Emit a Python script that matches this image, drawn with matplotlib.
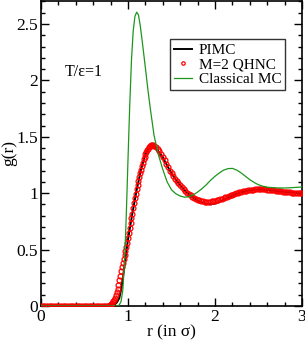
import matplotlib
matplotlib.use("Agg")
import matplotlib.pyplot as plt
from matplotlib.ticker import MultipleLocator

plt.rcParams['font.family'] = ['Liberation Serif', 'DejaVu Serif']

# M=2 QHNC (red open circles)
r_qhnc = [0.0, 0.02, 0.04, 0.06, 0.08, 0.10, 0.12, 0.14, 0.16, 0.18, 0.20, 0.22, 0.24,
          0.26, 0.28, 0.30, 0.32, 0.34, 0.36, 0.38, 0.40, 0.42, 0.44, 0.46, 0.48, 0.50,
          0.52, 0.54, 0.56, 0.58, 0.60, 0.62, 0.64, 0.66, 0.68, 0.70, 0.72, 0.74, 0.76,
          0.77, 0.78, 0.79, 0.80, 0.81, 0.82, 0.83, 0.84, 0.85, 0.86, 0.87, 0.88, 0.89,
          0.90, 0.91, 0.92, 0.93, 0.94, 0.95, 0.96, 0.97, 0.98, 0.99, 1.00, 1.01, 1.02,
          1.03, 1.04, 1.05, 1.06, 1.07, 1.08, 1.09, 1.10, 1.11, 1.12, 1.13, 1.14, 1.15,
          1.16, 1.17, 1.18, 1.19, 1.20, 1.21, 1.22, 1.23, 1.24, 1.25, 1.26, 1.27, 1.28,
          1.29, 1.30, 1.32, 1.34, 1.36, 1.38, 1.40, 1.42, 1.44, 1.46, 1.48, 1.50, 1.52,
          1.54, 1.56, 1.58, 1.60, 1.62, 1.64, 1.66, 1.68, 1.70, 1.72, 1.74, 1.76, 1.78,
          1.80, 1.82, 1.84, 1.86, 1.88, 1.90, 1.92, 1.94, 1.96, 1.98, 2.00, 2.02, 2.04,
          2.06, 2.08, 2.10, 2.12, 2.14, 2.16, 2.18, 2.20, 2.22, 2.24, 2.26, 2.28, 2.30,
          2.32, 2.34, 2.36, 2.38, 2.40, 2.42, 2.44, 2.46, 2.48, 2.50, 2.52, 2.54, 2.56,
          2.58, 2.60, 2.62, 2.64, 2.66, 2.68, 2.70, 2.72, 2.74, 2.76, 2.78, 2.80, 2.82,
          2.84, 2.86, 2.88, 2.90, 2.92, 2.94, 2.96, 2.98, 3.00]
g_qhnc = [0.0, 0.0, 0.0, 0.0, 0.0, 0.0, 0.0, 0.0, 0.0, 0.0, 0.0, 0.0, 0.0,
          0.0, 0.0, 0.0, 0.0, 0.0, 0.0, 0.0, 0.0, 0.0, 0.0, 0.0, 0.0, 0.0,
          0.0, 0.0, 0.0, 0.0, 0.0, 0.0, 0.0, 0.0, 0.0, 0.0, 0.0, 0.0, 0.0,
          0.0, 0.003, 0.007, 0.012, 0.02, 0.03, 0.042, 0.056, 0.072, 0.095, 0.122, 0.155, 0.19,
          0.23, 0.27, 0.31, 0.35, 0.385, 0.42, 0.455, 0.49, 0.525, 0.562, 0.60, 0.645, 0.69,
          0.735, 0.78, 0.82, 0.865, 0.91, 0.955, 0.995, 1.035, 1.075, 1.11, 1.145, 1.18, 1.21,
          1.24, 1.27, 1.30, 1.325, 1.345, 1.365, 1.38, 1.395, 1.407, 1.415, 1.421, 1.425, 1.427,
          1.425, 1.422, 1.41, 1.39, 1.37, 1.345, 1.318, 1.29, 1.26, 1.23, 1.20, 1.175, 1.15,
          1.13, 1.11, 1.09, 1.07, 1.052, 1.035, 1.02, 1.005, 0.992, 0.98, 0.968, 0.958, 0.95,
          0.943, 0.937, 0.932, 0.929, 0.926, 0.925, 0.925, 0.926, 0.928, 0.931, 0.935, 0.939, 0.943,
          0.947, 0.952, 0.957, 0.962, 0.968, 0.974, 0.98, 0.986, 0.992, 0.998, 1.003, 1.008, 1.012,
          1.016, 1.02, 1.023, 1.026, 1.028, 1.030, 1.032, 1.033, 1.034, 1.035, 1.035, 1.035, 1.034,
          1.033, 1.032, 1.03, 1.028, 1.026, 1.024, 1.022, 1.02, 1.018, 1.016, 1.014, 1.012, 1.01,
          1.009, 1.008, 1.006, 1.005, 1.004, 1.003, 1.002, 1.001, 1.0]

# PIMC (black line)
r_pimc = [0.0, 0.5, 0.8, 0.825, 0.85, 0.875, 0.9, 0.925, 0.95, 0.975, 1.0, 1.05, 1.1,
          1.15, 1.2, 1.25, 1.3, 1.35, 1.4, 1.45, 1.5, 1.55, 1.6, 1.65, 1.7, 1.75, 1.8,
          1.85, 1.9, 1.95, 2.0, 2.05, 2.1, 2.2, 2.3, 2.4, 2.5, 2.6, 2.7, 2.8, 2.9, 3.0]
g_pimc = [0.0, 0.0, 0.0, 0.005, 0.015, 0.035, 0.07, 0.16, 0.30, 0.45, 0.59, 0.82, 1.03,
          1.21, 1.345, 1.415, 1.42, 1.37, 1.318, 1.245, 1.175, 1.12, 1.07, 1.025, 0.99, 0.96, 0.937,
          0.918, 0.905, 0.902, 0.908, 0.922, 0.945, 0.98, 1.008, 1.026, 1.034, 1.03, 1.02, 1.012, 1.005, 1.0]

# Classical MC (green line)
r_mc = [0.0, 0.5, 0.88, 0.90, 0.92, 0.94, 0.96, 0.98, 1.00, 1.02, 1.04, 1.06, 1.08, 1.10,
        1.12, 1.14, 1.16, 1.18, 1.20, 1.23, 1.26, 1.30, 1.35, 1.40, 1.45, 1.50, 1.55,
        1.60, 1.65, 1.70, 1.75, 1.80, 1.85, 1.90, 1.95, 2.00, 2.05, 2.10, 2.15, 2.20,
        2.25, 2.30, 2.35, 2.40, 2.45, 2.50, 2.55, 2.60, 2.70, 2.80, 2.90, 3.00]
g_mc = [0.0, 0.0, 0.0, 0.01, 0.04, 0.14, 0.38, 0.80, 1.30, 1.78, 2.18, 2.44, 2.57, 2.605,
        2.58, 2.49, 2.37, 2.24, 2.11, 1.91, 1.73, 1.51, 1.34, 1.21, 1.10, 1.03, 0.995,
        0.975, 0.965, 0.968, 0.985, 1.01, 1.04, 1.075, 1.115, 1.15, 1.18, 1.205, 1.218, 1.22,
        1.205, 1.18, 1.15, 1.12, 1.095, 1.075, 1.062, 1.053, 1.047, 1.046, 1.05, 1.055]

x_ticks = [0, 1, 2, 3]
y_ticks = [0, 0.5, 1, 1.5, 2, 2.5]
y_ticklabels = ['0', '0.5', '1', '1.5', '2', '2.5']

fig = plt.figure(figsize=(3.05, 3.4), dpi=100)
ax = fig.add_axes([41/305, 34/340, 261/305, 305/340])

ax.plot(r_pimc, g_pimc, color='black', lw=1.4, label='PIMC', zorder=2)
ax.plot(r_qhnc, g_qhnc, linestyle='none', marker='o', markersize=3.5,
        markerfacecolor='none', markeredgecolor='red', markeredgewidth=0.9,
        label='M=2 QHNC', zorder=3)
ax.plot(r_mc, g_mc, color='#1c961c', lw=0.9, label='Classical MC', zorder=4)

ax.set_xlim(0, 3)
ax.set_ylim(0, 2.704)
ax.set_xticks(x_ticks)
ax.set_xticklabels([str(t) for t in x_ticks])
ax.set_yticks(y_ticks)
ax.set_yticklabels(y_ticklabels)
ax.xaxis.set_minor_locator(MultipleLocator(0.2))
ax.yaxis.set_minor_locator(MultipleLocator(0.1))
ax.tick_params(which='both', direction='in', top=True, right=True, labelsize=12.5, width=1)
ax.tick_params(which='major', length=5.5, pad=2)
ax.tick_params(which='minor', length=3)
for s in ax.spines.values():
    s.set_linewidth(1.2)

ax.set_xlabel('r (in σ)', fontsize=12.5, labelpad=0)
ax.set_ylabel('g(r)', fontsize=12.5)
ax.yaxis.set_label_coords(-0.092, 0.5)

ax.text(0.092, 0.767, 'T/ε=1', transform=ax.transAxes, fontsize=11.5, va='center', ha='left')

leg = ax.legend(loc='upper right', bbox_to_anchor=(0.935, 0.874), borderaxespad=0,
                fontsize=11, frameon=True, fancybox=False, handlelength=1.15,
                handletextpad=0.45, labelspacing=0.05, borderpad=0.25, markerscale=0.7)
leg.get_frame().set_edgecolor('black')
leg.get_frame().set_linewidth(1.0)

fig.savefig('out.png', dpi=100)
